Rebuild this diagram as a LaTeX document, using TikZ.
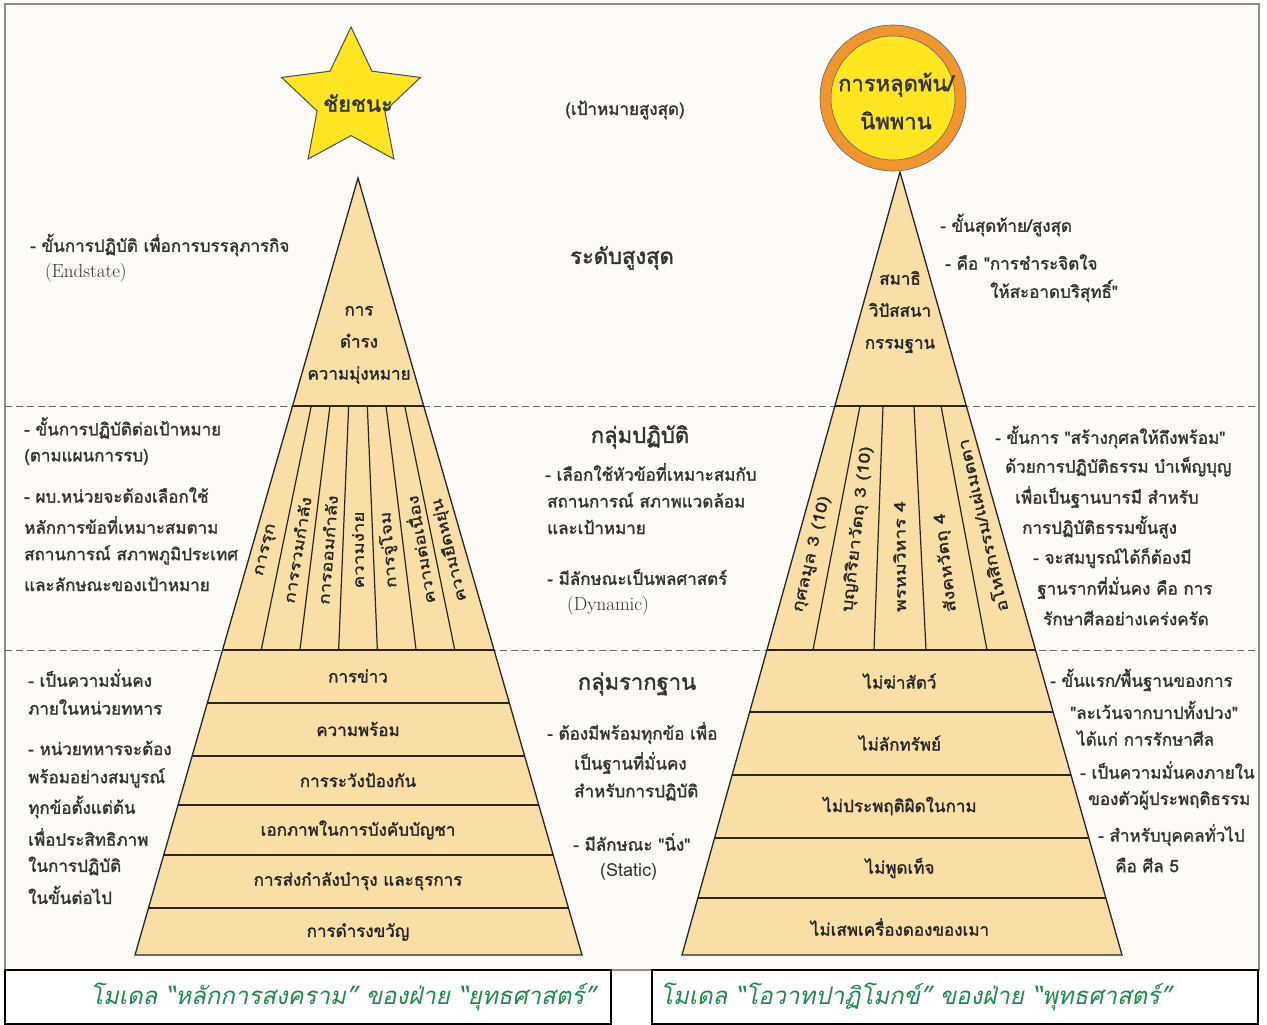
\documentclass[tikz,border=0pt]{standalone}
\usepackage{fontspec}
\newfontfamily\thaifont[Script=Thai,FakeBold=1.6]{Loma}
\newfontfamily\thaitall[Script=Thai,FakeBold=1.4,FakeStretch=1.25]{Loma}
\newfontfamily\thaiplain[Script=Thai]{Loma}
\usetikzlibrary{calc,shapes.geometric}
\definecolor{paper}{HTML}{FCFBF8}
\definecolor{pyrfill}{HTML}{F9DFA6}
\definecolor{goldfill}{HTML}{FFE620}
\definecolor{ringfill}{HTML}{F0962C}
\definecolor{capgreen}{HTML}{21894A}
\definecolor{inkgray}{HTML}{333333}

\begin{document}
\begin{tikzpicture}[x=1pt,y=-1pt,
    txt/.style={font=\thaifont\fontsize{17}{32}\selectfont, text=inkgray, inner sep=0pt},
    note/.style={txt, anchor=west},
    latin/.style={note, font=\rmfamily\fontsize{19}{22}\selectfont},
    head/.style={txt, font=\thaifont\fontsize{22}{38}\selectfont},
    layer/.style={txt, text=black!85, align=center},
    colbox/.style={txt, text=black!85, sloped, allow upside down},
    lcol/.style={colbox, font=\thaitall\fontsize{15}{18}\selectfont},
    rcol/.style={colbox, font=\thaitall\fontsize{15.5}{18}\selectfont},
    pyr/.style={fill=pyrfill, draw=black!85, line width=1.3pt},
    rule/.style={draw=black!85, line width=1.2pt},
    sep/.style={draw=black!60, line width=1pt, dash pattern=on 7pt off 4pt},
    goal/.style={star, star points=5, star point ratio=2.05, minimum size=146pt, inner sep=0pt, fill=goldfill, draw=black!70, line width=1pt},
    ring/.style={circle, minimum size=146pt, inner sep=0pt, fill=ringfill, draw=black!60, line width=0.6pt},
    disc/.style={circle, minimum size=124pt, inner sep=0pt, fill=goldfill, draw=black!60, line width=0.6pt},
    capbox/.style={draw=black, line width=1.4pt, fill=white},
    captxt/.style={anchor=west, font=\thaiplain\itshape\fontsize{24}{28}\selectfont, text=capgreen, inner sep=0pt}
  ]

  \useasboundingbox (0,0) rectangle (1267,1025);
  \fill[white] (0,0) rectangle (1267,1025);
  \filldraw[fill=paper, draw=black!45, line width=1.2pt] (5,4) rectangle (1259,970);

  % level separators
  \draw[sep] (5,406) -- (1259,406);
  \draw[sep] (5,650) -- (1259,650);

  % left pyramid
  \coordinate (LA) at (358,178);
  \coordinate (LBl) at (135,955);
  \coordinate (LBr) at (582,955);
  \coordinate (Lml) at (292.6,406);
  \coordinate (Lmr) at (423.4,406);
  \coordinate (Lbl) at (222.5,650);
  \coordinate (Lbr) at (493.5,650);
  \fill[pyrfill] (LA) -- (LBl) -- (LBr) -- cycle;
  \begin{scope}
    \clip (LA) -- (LBl) -- (LBr) -- cycle;
    \foreach \y in {406,650,703,756,805,855,908}
      \draw[rule] (100,\y) -- (620,\y);
  \end{scope}
  \foreach \k in {1,...,6}
    \draw[rule] ($(Lml)!\k/7!(Lmr)$) -- ($(Lbl)!\k/7!(Lbr)$);
  \draw[pyr, fill=none] (LA) -- (LBl) -- (LBr) -- cycle;

  \node[layer] (Ltop) at (359,345) {การ\\ดำรง\\ความมุ่งหมาย};
  \foreach \t [count=\k] in {การรุก,การรวมกำลัง,การออมกำลัง,ความง่าย,การจู่โจม,ความต่อเนื่อง,ความยืดหยุ่น}
    \path ($(Lbl)!{(\k-0.5)/7}!(Lbr)$) -- node[lcol, pos=0.41] (Lcol\k) {\t} ($(Lml)!{(\k-0.5)/7}!(Lmr)$);
  \foreach \y/\t [count=\k] in {676/การข่าว,729/ความพร้อม,780/การระวังป้องกัน,830/เอกภาพในการบังคับบัญชา,881/{การส่งกำลังบำรุง และธุรการ},932/การดำรงขวัญ}
    \node[layer] (Llay\k) at (358,\y) {\t};

  % right pyramid
  \coordinate (RA) at (900,172);
  \coordinate (RBl) at (682,955);
  \coordinate (RBr) at (1122,955);
  \fill[pyrfill] (RA) -- (RBl) -- (RBr) -- cycle;
  \begin{scope}
    \clip (RA) -- (RBl) -- (RBr) -- cycle;
    \foreach \y in {406,650,712,775,838,898}
      \draw[rule] (650,\y) -- (1160,\y);
  \end{scope}
  \foreach \tx/\bx in {860/813,883/874,914/926,941/987}
    \draw[rule] (\tx,406) -- (\bx,650);
  \draw[pyr, fill=none] (RA) -- (RBl) -- (RBr) -- cycle;

  \node[layer] (Rtop) at (900,312) {สมาธิ\\วิปัสสนา\\กรรมฐาน};
  \foreach \bx/\tx/\t [count=\k] in {789.5/847/{กุศลมูล 3 (10)},843.5/871.5/{บุญกิริยาวัตถุ 3 (10)},900/898.5/{พรหมวิหาร 4},956.5/927.5/{สังคหวัตถุ 4},1010.5/953.5/{อโหสิกรรม/แผ่เมตตา}}
    \path (\bx,650) -- node[rcol, anchor=west, pos=0.155] (Rcol\k) {\t} (\tx,406);
  \foreach \y/\t [count=\k] in {681/ไม่ฆ่าสัตว์,743/ไม่ลักทรัพย์,806/ไม่ประพฤติผิดในกาม,868/ไม่พูดเท็จ,927/ไม่เสพเครื่องดองของเมา}
    \node[layer] (Rlay\k) at (900,\y) {\t};

  % goals on top
  \node[goal] (win) at (351,100) {};
  \node[head] (wintxt) at (358,103) {ชัยชนะ};
  \node[ring] (freering) at (893,98) {};
  \node[disc] (freedisc) at (893,98) {};
  \node[head, align=center] (freetxt) at (896,101) {การหลุดพ้น/\\นิพพาน};

  % middle column
  \node[txt] (goalnote) at (625,110) {(เป้าหมายสูงสุด)};
  \node[head] (tophead) at (622,258) {ระดับสูงสุด};
  \node[head] (midhead) at (640,437) {กลุ่มปฏิบัติ};
  \node[head] (bothead) at (637,684) {กลุ่มรากฐาน};
  \foreach \x/\y/\t [count=\k] in {545/472/{- เลือกใช้หัวข้อที่เหมาะสมกับ},547/500/{สถานการณ์ สภาพแวดล้อม},547/527/{และเป้าหมาย},547/577/{- มีลักษณะเป็นพลศาสตร์},547/733/{- ต้องมีพร้อมทุกข้อ เพื่อ},574/763/{เป็นฐานที่มั่นคง},574/792/{สำหรับการปฏิบัติ},573/842/{- มีลักษณะ "นิ่ง"}}
    \node[note] (Mnote\k) at (\x,\y) {\t};
  \node[latin] (dyn) at (567,606) {(Dynamic)};
  \node[note, font=\thaiplain\fontsize{18}{22}\selectfont] (stat) at (600,872) {(Static)};

  % left notes
  \foreach \x/\y/\t [count=\k] in {30/245/{- ขั้นการปฏิบัติ เพื่อการบรรลุภารกิจ},24/428/{- ขั้นการปฏิบัติต่อเป้าหมาย},24/457/{(ตามแผนการรบ)},24/495/{- ผบ.หน่วยจะต้องเลือกใช้},24/525/{หลักการข้อที่เหมาะสมตาม},24/555/{สถานการณ์ สภาพภูมิประเทศ},24/584/{และลักษณะของเป้าหมาย},28/678/{- เป็นความมั่นคง},28/707/{ภายในหน่วยทหาร},28/748/{- หน่วยทหารจะต้อง},28/778/{พร้อมอย่างสมบูรณ์},28/807/{ทุกข้อตั้งแต่ต้น},28/837/{เพื่อประสิทธิภาพ},28/866/{ในการปฏิบัติ},28/895/{ในขั้นต่อไป}}
    \node[note] (Lnote\k) at (\x,\y) {\t};
  \node[latin] (endst) at (45,273) {(Endstate)};

  % right notes
  \foreach \x/\y/\t [count=\k] in {940/225/{- ขั้นสุดท้าย/สูงสุด},945/262/{- คือ "การชำระจิตใจ},990/291/{ให้สะอาดบริสุทธิ์"},995/437/{- ขั้นการ "สร้างกุศลให้ถึงพร้อม"},1005/467/{ด้วยการปฏิบัติธรรม บำเพ็ญบุญ},1015/497/{เพื่อเป็นฐานบารมี สำหรับ},1022/527/{การปฏิบัติธรรมขั้นสูง},1033/558/{- จะสมบูรณ์ได้ก็ต้องมี},1037/588/{ฐานรากที่มั่นคง คือ การ},1043/618/{รักษาศีลอย่างเคร่งครัด},1050/680/{- ขั้นแรก/พื้นฐานของการ},1070/710/{"ละเว้นจากบาปทั้งปวง"},1077/738/{ได้แก่ การรักษาศีล},1080/770/{- เป็นความมั่นคงภายใน},1088/800/{ของตัวผู้ประพฤติธรรม},1098/835/{- สำหรับบุคคลทั่วไป},1115/865/{คือ ศีล 5}}
    \node[note] (Rnote\k) at (\x,\y) {\t};

  % captions
  \draw[capbox] (5,970) rectangle (611,1024);
  \draw[capbox] (652,970) rectangle (1258,1024);
  \node[captxt] (capwar) at (90,997) {โมเดล “หลักการสงคราม” ของฝ่าย “ยุทธศาสตร์”};
  \node[captxt] (capdhamma) at (660,997) {โมเดล “โอวาทปาฏิโมกข์” ของฝ่าย “พุทธศาสตร์”};

\end{tikzpicture}
\end{document}
